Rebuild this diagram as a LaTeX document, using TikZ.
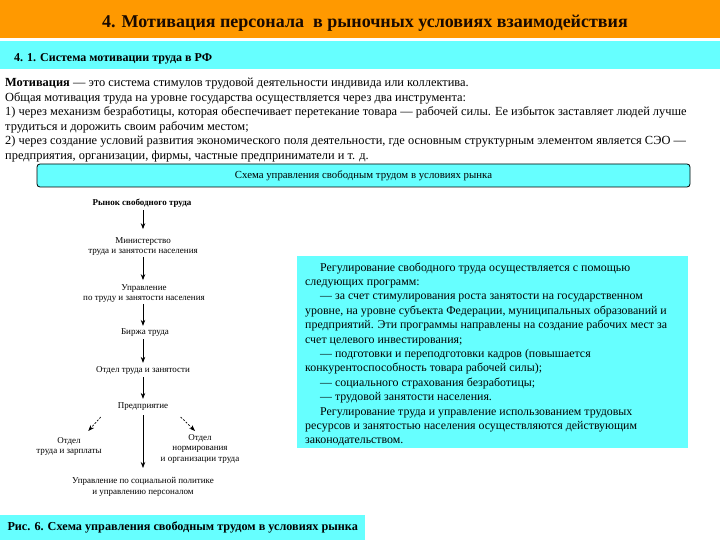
\documentclass[tikz,border=0pt]{standalone}
\usepackage{fontspec}
\setmainfont{Liberation Serif}
\usetikzlibrary{arrows.meta}
\definecolor{hdrorange}{HTML}{FF9900}
\definecolor{hdrcyan}{HTML}{66FFFF}
\definecolor{titlecol}{HTML}{1A0A00}
\tikzset{
  bodytxt/.style={anchor=base west, inner sep=0pt, font=\fontsize{12.4}{14.4}\selectfont},
  boxtxt/.style={anchor=base west, inner sep=0pt, font=\fontsize{11.9}{14.4}\selectfont},
  ft/.style={font=\fontsize{9}{10.5}\selectfont, align=center, inner sep=1pt},
  arr/.style={-{Stealth[length=6pt,width=4.5pt]}, line width=0.7pt},
  darr/.style={arr, dash pattern=on 2pt off 1.5pt}
}
\begin{document}
\begin{tikzpicture}[x=1pt,y=-1pt]
\useasboundingbox (0,0) rectangle (720,540);
% header
\fill[hdrorange] (0,0) rectangle (720,38);
\fill[hdrcyan] (0,41) rectangle (720,69);
\node[anchor=base, inner sep=0pt, text=titlecol, font=\bfseries\fontsize{18}{22}\selectfont] (title) at (365,28) {4. Мотивация персонала\ \ в рыночных условиях взаимодействия};
\node[anchor=base west, inner sep=0pt, font=\bfseries\fontsize{12}{14}\selectfont] (sub) at (14,61.5) {4. 1. Система мотивации труда в РФ};
% body text
\node[bodytxt] (b1) at (5,87) {\textbf{Мотивация} — это система стимулов трудовой деятельности индивида или коллектива.};
\node[bodytxt] (b2) at (5,101.5) {Общая мотивация труда на уровне государства осуществляется через два инструмента:};
\node[bodytxt] (b3) at (5,116) {1) через механизм безработицы, которая обеспечивает перетекание товара — рабочей силы. Ее избыток заставляет людей лучше};
\node[bodytxt] (b4) at (5,130.5) {трудиться и дорожить своим рабочим местом;};
\node[bodytxt] (b5) at (5,145) {2) через создание условий развития экономического поля деятельности, где основным структурным элементом является СЭО —};
\node[bodytxt] (b6) at (5,159.5) {предприятия, организации, фирмы, частные предприниматели и т. д.};
% schema box
\node[draw, line width=0.8pt, fill=hdrcyan, rounded corners=3pt, minimum width=653pt, minimum height=23pt, inner sep=0pt, font=\fontsize{10.8}{13}\selectfont] (schema) at (363.5,175.5) {Схема управления свободным трудом в условиях рынка};
% flowchart
\node[ft, font=\bfseries\fontsize{9}{10.5}\selectfont] (n1) at (142,203) {Рынок свободного труда};
\node[ft] (n2) at (143,246.5) {Министерство\\труда и занятости населения};
\node[ft] (n3) at (144,293.5) {Управление\\по труду и занятости населения};
\node[ft] (n4) at (145,333) {Биржа труда};
\node[ft] (n5) at (143,370) {Отдел труда и занятости};
\node[ft] (n6) at (143,407) {Предприятие};
\node[ft] (n7) at (69,446.5) {Отдел\\труда и зарплаты};
\node[ft] (n8) at (200,448.5) {Отдел\\нормирования\\и организации труда};
\node[ft] (n9) at (143,487) {Управление по социальной политике\\и управлению персоналом};
\draw[arr, shorten <=2pt, shorten >=7pt] (n1.south -| 143,0) -- (n2.north -| 143,0);
\draw[arr, shorten >=3pt] (n2.south -| 143,0) -- (n3.north -| 143,0);
\draw[arr, shorten >=2pt, shorten <=0pt] (n3.south -| 143,0) -- (n4.north -| 143,0);
\draw[arr, shorten <=1pt, shorten >=2pt] (n4.south -| 143,0) -- (n5.north -| 143,0);
\draw[arr, shorten <=2pt, shorten >=3pt] (n5.south -| 143,0) -- (n6.north -| 143,0);
\draw[arr, shorten <=3pt, shorten >=8.5pt] (n6.south -| 143,0) -- (n9.north -| 143,0);
\coordinate (dl1) at (100.7,417);
\coordinate (dl2) at (88.3,431);
\coordinate (dr1) at (180.7,417);
\coordinate (dr2) at (195,431);
\draw[darr] (dl1) -- (dl2);
\draw[darr] (dr1) -- (dr2);
% right box
\fill[hdrcyan] (297,256) rectangle (688,448);
\node[boxtxt] (r1) at (320,271) {Регулирование свободного труда осуществляется с помощью};
\node[boxtxt] (r2) at (305,285.4) {следующих программ:};
\node[boxtxt] (r3) at (320,299.8) {— за счет стимулирования роста занятости на государственном};
\node[boxtxt] (r4) at (305,314.2) {уровне, на уровне субъекта Федерации, муниципальных образований и};
\node[boxtxt] (r5) at (305,328.6) {предприятий. Эти программы направлены на создание рабочих мест за};
\node[boxtxt] (r6) at (305,343) {счет целевого инвестирования;};
\node[boxtxt] (r7) at (320,357.4) {— подготовки и переподготовки кадров (повышается};
\node[boxtxt] (r8) at (305,371.8) {конкурентоспособность товара рабочей силы);};
\node[boxtxt] (r9) at (320,386.2) {— социального страхования безработицы;};
\node[boxtxt] (r10) at (320,400.6) {— трудовой занятости населения.};
\node[boxtxt] (r11) at (320,415) {Регулирование труда и управление использованием трудовых};
\node[boxtxt] (r12) at (305,429.4) {ресурсов и занятостью населения осуществляются действующим};
\node[boxtxt] (r13) at (305,443.8) {законодательством.};
% caption
\node[fill=hdrcyan, anchor=north west, minimum width=365pt, minimum height=25pt, inner sep=0pt, font=\bfseries\fontsize{12.2}{14}\selectfont] (cap) at (0,515) {Рис. 6. Схема управления свободным трудом в условиях рынка};
\end{tikzpicture}
\end{document}
